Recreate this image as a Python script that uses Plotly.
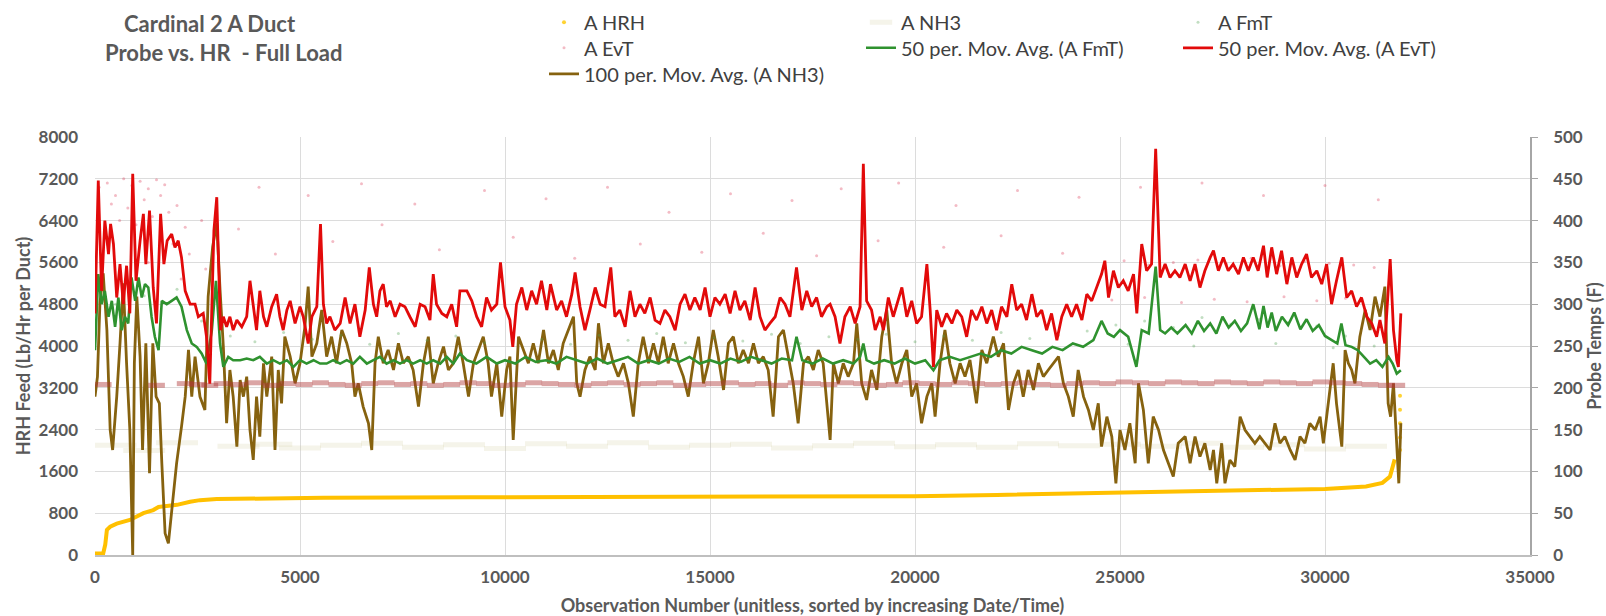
import plotly.graph_objects as go

# ---------------- data ----------------
# A HRH feed (Lb/Hr, left axis) - dense sorted points forming the orange curve
HRH_CURVE = [(0, 30), (200, 30), (250, 200), (290, 480), (370, 540), (530, 600), (850, 670),
             (1180, 800), (1420, 860), (1550, 920), (1750, 940), (2000, 960), (2320, 1020),
             (2560, 1050), (2970, 1070), (3940, 1085), (5570, 1095), (9150, 1105), (17000, 1110),
             (20000, 1125), (22000, 1150), (24000, 1180), (26000, 1210), (28000, 1235),
             (30000, 1265), (31000, 1310), (31400, 1380), (31585, 1500), (31700, 1830)]
HRH_DOTS = [(31830, 2010), (31830, 2250), (31830, 2520), (31830, 2780), (31830, 3050)]

# A EvT raw temps (F, right axis)
EVT_BAND = [(200, 204), (1500, 203), (2200, 205), (2500, 204), (2800, 203), (3100, 205), (3500, 204),
            (3900, 206), (4300, 203), (4700, 205), (5100, 204), (5500, 206), (5900, 204), (6300, 203),
            (6700, 205), (7100, 206), (7500, 204), (7900, 205), (8300, 203), (8700, 204), (9100, 206),
            (9500, 205), (9900, 203), (10300, 204), (10700, 206), (11100, 205), (11500, 204),
            (11900, 203), (12300, 205), (12700, 206), (13100, 204), (13500, 205), (13900, 206),
            (14300, 203), (14700, 204), (15100, 205), (15500, 206), (15900, 204), (16300, 205),
            (16700, 203), (17100, 206), (17500, 205), (17900, 204), (18300, 206), (18700, 205),
            (19100, 203), (19500, 204), (19900, 206), (20300, 205), (20700, 204), (21100, 206),
            (21500, 205), (21900, 204), (22300, 205), (22700, 206), (23100, 204), (23500, 203),
            (23900, 205), (24300, 206), (24700, 205), (25100, 207), (25500, 206), (25900, 205),
            (26300, 207), (26700, 206), (27100, 205), (27500, 207), (27900, 206), (28300, 205),
            (28700, 207), (29100, 206), (29500, 205), (29900, 207), (30300, 206), (30700, 205),
            (31100, 204), (31500, 203), (31750, 203)]
EVT_SCATTER = [(100, 440), (300, 445), (500, 430), (700, 450), (900, 442), (1100, 447), (1300, 438),
               (1500, 449), (1700, 443), (400, 420), (800, 415), (1200, 425), (1600, 430), (2000, 418),
               (600, 400), (1000, 395), (1400, 405), (1800, 410), (2200, 392), (2600, 400), (350, 380),
               (1900, 372), (2300, 360), (1300, 350), (2700, 342), (2100, 330), (4000, 440), (5200, 430),
               (6500, 444), (7800, 420), (9500, 436), (11000, 426), (12500, 440), (14000, 410),
               (15500, 432), (17000, 424), (18200, 438), (19600, 445), (21000, 418), (22500, 436),
               (24000, 428), (25500, 440), (27000, 445), (28500, 430), (30000, 442), (31300, 425),
               (3500, 390), (4400, 360), (5800, 375), (7000, 395), (8400, 365), (10200, 380),
               (11700, 355), (13300, 372), (14800, 362), (16300, 385), (17600, 358), (19100, 376),
               (20700, 368), (22100, 382), (23600, 361), (24600, 345), (25100, 352), (25700, 347),
               (26300, 350), (26900, 353), (27600, 348), (28200, 355), (28900, 346), (29500, 351),
               (30100, 349), (30700, 347), (31200, 344), (24800, 305), (25600, 308), (26500, 302),
               (27300, 306), (28100, 303), (29000, 309), (29800, 304), (30500, 307)]

# A FmT raw temps (F, right axis)
FMT_SCATTER = [(500, 300), (1200, 310), (2000, 318), (2600, 280), (3300, 262), (3900, 255), (4600, 266),
               (5300, 258), (6000, 263), (6700, 252), (7400, 265), (8100, 257), (8800, 262), (9500, 254),
               (10200, 264), (10900, 258), (11600, 252), (12300, 263), (13000, 257), (13700, 265),
               (14400, 254), (15100, 260), (15800, 256), (16500, 264), (17200, 253), (17900, 261),
               (18600, 258), (19300, 264), (20000, 255), (20700, 262), (21400, 257), (22100, 266),
               (22800, 259), (23500, 263), (24200, 268), (24900, 275), (25600, 280), (26300, 272),
               (27000, 284), (27700, 276), (28400, 282), (29100, 278), (29800, 274), (30500, 262),
               (31200, 250), (25200, 252), (26800, 250), (28800, 253), (30200, 248)]

# A NH3 raw (left axis)
NH3_SCATTER = [(500, 2100), (1200, 2000), (2000, 2150), (3500, 2080), (4300, 2120), (5000, 2050),
               (6000, 2100), (7000, 2140), (8000, 2060), (9000, 2110), (10000, 2040), (11000, 2130),
               (12000, 2080), (13000, 2150), (14000, 2060), (15000, 2100), (16000, 2120), (17000, 2050),
               (18000, 2090), (19000, 2140), (20000, 2070), (21000, 2110), (22000, 2060), (23000, 2130),
               (24000, 2090), (25000, 2120), (26000, 2080), (27000, 2140), (28000, 2060), (29000, 2110),
               (30000, 2030), (31000, 2080)]

# 50 per. Mov. Avg. (A EvT), F
EVT_AVG = [(0, 289), (80, 448), (160, 316), (240, 400), (330, 360), (380, 396), (450, 372), (530, 308),
           (610, 348), (690, 300), (770, 346), (850, 289), (920, 456), (1000, 328), (1100, 376),
           (1180, 408), (1240, 348), (1330, 412), (1420, 320), (1500, 277), (1600, 408), (1680, 348),
           (1760, 376), (1870, 384), (1950, 368), (2030, 376), (2110, 356), (2200, 316), (2320, 300),
           (2440, 300), (2520, 285), (2640, 289), (2720, 261), (2800, 205), (2900, 388), (2970, 428),
           (3060, 269), (3130, 285), (3210, 273), (3290, 285), (3370, 269), (3460, 281), (3580, 273),
           (3700, 285), (3780, 328), (3860, 300), (3940, 269), (4020, 316), (4110, 285), (4190, 273),
           (4310, 297), (4430, 312), (4510, 285), (4590, 269), (4680, 293), (4760, 304), (4880, 277),
           (5000, 297), (5080, 285), (5200, 253), (5290, 285), (5410, 297), (5500, 396), (5570, 300),
           (5650, 277), (5730, 285), (5850, 269), (5980, 277), (6100, 308), (6220, 277), (6340, 300),
           (6460, 261), (6590, 293), (6690, 344), (6790, 300), (6870, 285), (6950, 316), (7030, 324),
           (7110, 297), (7200, 304), (7320, 285), (7440, 300), (7560, 297), (7680, 285), (7810, 273),
           (7930, 300), (8050, 297), (8170, 281), (8250, 336), (8330, 300), (8460, 289), (8580, 285),
           (8700, 300), (8820, 273), (8900, 316),
           (9070, 316), (9190, 304), (9310, 285), (9430, 273), (9550, 308), (9670, 293), (9800, 300),
           (9890, 350), (10000, 297), (10120, 281), (10190, 249), (10280, 300), (10410, 320),
           (10530, 293), (10650, 316), (10770, 300), (10890, 328), (11020, 293), (11110, 324),
           (11260, 293), (11380, 304), (11500, 285), (11630, 312), (11710, 338), (11830, 297),
           (11950, 269), (12070, 293), (12200, 320), (12320, 300), (12440, 297), (12580, 344),
           (12680, 285), (12800, 293), (12930, 273), (13050, 316), (13170, 285), (13290, 300),
           (13410, 289), (13540, 308), (13660, 281), (13780, 277), (13900, 293), (14020, 285),
           (14150, 269), (14270, 300), (14390, 312), (14510, 293), (14630, 308), (14760, 293),
           (14880, 320), (15000, 285), (15120, 308), (15240, 300), (15370, 312), (15490, 289),
           (15610, 316), (15730, 293), (15850, 304), (15980, 281), (16100, 320), (16220, 285),
           (16340, 269), (16460, 277), (16590, 285), (16710, 308), (16830, 300), (16950, 285),
           (17110, 344), (17240, 293), (17360, 316), (17480, 297), (17600, 308), (17720, 285),
           (17850, 297),
           (17930, 300), (18050, 285), (18170, 253), (18290, 285), (18420, 297), (18540, 277),
           (18660, 297), (18740, 468), (18820, 304), (18940, 293), (19030, 269), (19150, 285),
           (19230, 269), (19350, 308), (19470, 285), (19590, 304), (19680, 320), (19800, 285),
           (19920, 304), (20040, 277), (20160, 285), (20290, 348), (20370, 293), (20450, 225),
           (20530, 293), (20650, 273), (20770, 289), (20900, 277), (21020, 293), (21140, 285),
           (21260, 261), (21380, 293), (21500, 281), (21630, 297), (21750, 277), (21870, 293),
           (21990, 269), (22110, 297), (22240, 285), (22360, 324), (22480, 293), (22600, 300),
           (22720, 281), (22850, 312), (22970, 285), (23090, 293), (23210, 269), (23330, 289),
           (23460, 257), (23580, 285), (23700, 300), (23820, 285), (23940, 300), (24070, 281),
           (24190, 312), (24310, 304), (24430, 320), (24550, 336), (24630, 352), (24720, 308),
           (24840, 340), (24960, 320), (25080, 328), (25200, 316), (25330, 336), (25410, 289),
           (25530, 372), (25650, 340), (25770, 348), (25870, 486), (25980, 332), (26100, 348),
           (26220, 332), (26340, 340),
           (26460, 332), (26590, 348), (26710, 328), (26830, 348), (26950, 320), (27070, 340),
           (27200, 356), (27280, 364), (27400, 340), (27520, 356), (27640, 340), (27760, 348),
           (27890, 336), (28010, 356), (28130, 340), (28250, 356), (28370, 340), (28500, 370),
           (28590, 332), (28700, 368), (28820, 336), (28940, 364), (29070, 324), (29190, 356),
           (29310, 332), (29430, 348), (29550, 360), (29670, 332), (29800, 340), (29920, 324),
           (30040, 348), (30160, 300), (30280, 328), (30410, 356), (30530, 308), (30650, 316),
           (30770, 297), (30890, 308), (31020, 285), (31140, 277), (31260, 261), (31340, 281),
           (31460, 253), (31590, 354), (31670, 269), (31750, 233), (31790, 225), (31850, 289)]

# 50 per. Mov. Avg. (A FmT), F
FMT_AVG = [(0, 245), (80, 336), (160, 300), (240, 316), (330, 285), (410, 304), (490, 273), (570, 308),
           (650, 269), (730, 285), (810, 277), (890, 332), (980, 304), (1060, 332), (1140, 308),
           (1220, 324), (1300, 320), (1380, 285), (1460, 261), (1550, 245), (1630, 304), (1750, 300),
           (1870, 304), (1990, 308), (2110, 297), (2240, 269), (2360, 253), (2480, 249), (2600, 241),
           (2720, 229), (2850, 269), (2950, 328), (3050, 253), (3130, 225), (3250, 237), (3370, 233),
           (3540, 233), (3700, 235), (3860, 233), (4020, 237), (4190, 229), (4350, 233), (4510, 229),
           (4680, 233), (4840, 225), (5000, 233), (5160, 229), (5330, 233), (5490, 229), (5650, 229),
           (5810, 233), (5980, 229), (6140, 233), (6300, 229), (6460, 237), (6630, 229), (6790, 233),
           (6950, 237), (7110, 229), (7280, 233), (7440, 229), (7600, 233), (7760, 229), (7930, 233),
           (8090, 229), (8250, 233), (8420, 229), (8580, 237), (8740, 229), (8900, 241),
           (9070, 233), (9300, 229), (9550, 237), (9800, 229), (10000, 233), (10250, 229), (10500, 237),
           (10750, 231), (11000, 233), (11250, 229), (11500, 237), (11750, 233), (12000, 229),
           (12250, 235), (12500, 229), (12750, 233), (13000, 237), (13250, 229), (13500, 233),
           (13750, 229), (14000, 235), (14250, 231), (14500, 237), (14750, 229), (15000, 233),
           (15250, 229), (15500, 235), (15750, 231), (16000, 237), (16250, 233), (16500, 229),
           (16750, 235), (17000, 233), (17110, 261), (17250, 233), (17500, 229), (17750, 235),
           (18000, 229), (18250, 233), (18500, 229), (18660, 237), (18740, 253), (18820, 233),
           (19000, 229), (19250, 233), (19500, 229), (19750, 235), (20000, 229), (20250, 233),
           (20450, 221), (20600, 233), (20850, 237), (21100, 233), (21350, 237), (21600, 241),
           (21850, 237), (22100, 245), (22350, 241), (22600, 249), (22850, 245), (23100, 241),
           (23350, 249), (23600, 245), (23850, 253), (24100, 249), (24350, 257), (24550, 280),
           (24700, 265), (24850, 261), (25000, 269), (25200, 261), (25400, 225), (25530, 269),
           (25700, 265), (25870, 345), (25980, 269), (26100, 265), (26250, 272), (26400, 265),
           (26600, 275), (26750, 265), (26900, 280), (27050, 268), (27200, 277), (27350, 265),
           (27500, 285), (27650, 272), (27800, 280), (27950, 268), (28100, 277), (28250, 300),
           (28400, 270), (28500, 298), (28600, 272), (28700, 290), (28800, 268), (28950, 285),
           (29100, 275), (29250, 290), (29400, 270), (29550, 282), (29700, 268), (29850, 275),
           (30000, 262), (30150, 257), (30300, 253), (30400, 277), (30500, 251), (30650, 249),
           (30800, 245), (30950, 237), (31100, 229), (31250, 233), (31400, 225), (31550, 237),
           (31650, 229), (31750, 217), (31850, 221)]

# 100 per. Mov. Avg. (A NH3), left axis
NH3_AVG = [(0, 3031), (60, 3414), (120, 4817), (200, 5392), (290, 4307), (370, 2393), (430, 2010),
           (530, 3031), (610, 4052), (690, 5200), (770, 3669), (850, 2393), (920, 0), (960, 3669),
           (1020, 4945), (1100, 3797), (1160, 2010), (1240, 4052), (1330, 1564), (1410, 4052),
           (1490, 3031), (1570, 2903), (1630, 1755), (1710, 415), (1790, 224), (1870, 798),
           (1990, 1755), (2110, 2457), (2200, 3031), (2280, 3924), (2360, 3031), (2440, 3797),
           (2560, 3031), (2680, 2776), (2760, 4945), (2870, 5902), (2970, 6349), (3050, 5073),
           (3130, 3988), (3210, 2521), (3290, 3541), (3370, 3031), (3460, 2074), (3540, 3350),
           (3620, 3031), (3700, 3414), (3780, 2393), (3860, 1819), (3940, 3031), (4020, 2266),
           (4110, 3669), (4190, 3031), (4310, 3797), (4390, 2010), (4470, 3541), (4550, 2903),
           (4630, 4179), (4760, 3797), (4880, 3286), (5000, 3669), (5120, 4371), (5200, 5136),
           (5290, 3797), (5410, 4052), (5530, 4690), (5650, 3797), (5770, 4179), (5890, 3669),
           (6020, 4307), (6140, 4052), (6260, 3669), (6340, 3031), (6420, 3286), (6540, 2840),
           (6670, 2521), (6750, 2010), (6830, 3669), (6910, 4179), (7030, 3669), (7150, 3924),
           (7280, 3541), (7400, 4052), (7520, 3669), (7640, 3797), (7760, 3541), (7890, 2840),
           (8010, 3669), (8130, 4179), (8250, 3286), (8370, 3669), (8500, 3988), (8620, 3541),
           (8740, 3669), (8860, 4179),
           (8980, 3669), (9110, 3031), (9230, 3669), (9350, 3924), (9470, 4179), (9590, 3669),
           (9670, 3031), (9800, 3669), (9920, 2648), (10040, 3541), (10120, 3797), (10200, 2202),
           (10330, 4179), (10450, 3924), (10570, 3669), (10690, 4052), (10810, 3669), (10940, 4307),
           (11060, 3669), (11180, 3924), (11300, 3541), (11420, 4052), (11540, 4307), (11670, 4562),
           (11750, 3286), (11830, 3031), (11950, 3541), (12070, 3797), (12200, 3541), (12280, 4435),
           (12400, 3669), (12520, 4052), (12640, 3669), (12760, 3414), (12890, 3669), (13010, 3286),
           (13130, 2648), (13250, 3669), (13370, 4179), (13500, 3669), (13620, 4052), (13740, 3669),
           (13860, 4179), (13980, 3669), (14110, 4052), (14230, 3669), (14350, 3414), (14470, 3031),
           (14590, 3669), (14720, 4179), (14840, 3286), (14960, 3669), (15080, 4307), (15200, 3797),
           (15330, 3159), (15450, 4052), (15570, 4179), (15690, 3669), (15810, 3924), (15940, 3669),
           (16060, 4052), (16180, 3669), (16300, 3797), (16420, 3541), (16540, 2648), (16670, 4179),
           (16790, 4307), (16910, 3797), (17030, 3286), (17150, 2521), (17280, 3669), (17400, 3797),
           (17520, 3541), (17640, 3924), (17760, 3669), (17930, 2202),
           (18010, 3669), (18130, 3286), (18250, 3669), (18370, 3414), (18500, 3669), (18580, 4435),
           (18700, 3286), (18820, 2967), (18940, 3541), (19070, 3159), (19190, 4179), (19310, 4690),
           (19430, 3669), (19550, 3286), (19680, 3669), (19800, 3924), (19920, 3031), (20040, 3286),
           (20160, 2521), (20290, 3031), (20410, 3286), (20490, 2648), (20610, 3669), (20730, 4307),
           (20850, 3669), (20980, 3286), (21100, 3669), (21220, 3414), (21340, 3733), (21500, 2903),
           (21630, 3924), (21750, 3669), (21910, 4179), (22030, 3797), (22160, 4052), (22280, 2776),
           (22400, 3286), (22520, 3541), (22640, 3031), (22760, 3541), (22890, 3159), (23010, 3669),
           (23130, 3414), (23250, 3541), (23370, 3669), (23500, 3797), (23620, 3286), (23740, 3031),
           (23860, 2648), (23980, 3541), (24110, 3031), (24230, 2776), (24350, 2393), (24470, 2903),
           (24550, 2074), (24680, 2648), (24800, 2266), (24900, 1372), (25000, 2393), (25120, 2010),
           (25240, 2521), (25370, 1755), (25450, 3286), (25570, 2776), (25690, 1755), (25810, 2648),
           (25940, 2393), (26060, 2010), (26180, 1755), (26300, 1500), (26420, 2138),
           (26590, 2266), (26710, 1755), (26830, 2266), (26950, 1883), (27070, 2138), (27200, 1628),
           (27280, 2010), (27360, 1372), (27480, 2138), (27560, 1372), (27680, 1819), (27800, 1691),
           (27930, 2648), (28050, 2393), (28170, 2266), (28290, 2138), (28410, 2266), (28540, 2138),
           (28660, 2010), (28780, 2521), (28900, 2138), (29020, 2266), (29150, 2010), (29270, 1819),
           (29390, 2266), (29510, 2138), (29630, 2521), (29760, 2393), (29880, 2648), (29960, 2138),
           (30040, 2648), (30120, 3159), (30200, 3669), (30280, 2903), (30410, 2074), (30490, 3924),
           (30570, 3669), (30650, 3541), (30730, 3286), (30850, 4179), (30980, 4690), (31100, 4307),
           (31220, 4945), (31340, 4562), (31460, 5136), (31540, 2903), (31600, 2648), (31670, 3286),
           (31750, 2010), (31800, 1372), (31850, 2521)]

LEFT_TICKS = list(range(0, 8001, 800))
RIGHT_TICKS = list(range(0, 501, 50))
X_TICKS = list(range(0, 35001, 5000))


def xs(p):
    return [a for a, _ in p]


def ys(p):
    return [b for _, b in p]


# ---------------- figure ----------------
FONT = "Lato"
GRAY = "#595959"
fig = go.Figure()

# row 1 of legend: A HRH, A NH3, A FmT ; row 2: A EvT, FmT avg, EvT avg ; row 3: NH3 avg
fig.add_trace(go.Scatter(x=xs(HRH_DOTS), y=ys(HRH_DOTS), name="A HRH", mode="markers",
                         marker=dict(size=4, color="rgba(255,200,0,0.8)"),
                         legend="legend", legendgroup="hrh", yaxis="y"))
fig.add_trace(go.Scatter(x=xs(EVT_SCATTER), y=ys(EVT_SCATTER), name="A EvT", mode="markers",
                         marker=dict(size=3, color="rgba(220,60,90,0.35)"),
                         legend="legend2", legendgroup="evt", yaxis="y2"))
fig.add_trace(go.Scatter(x=xs(EVT_BAND), y=ys(EVT_BAND), name="A EvT", mode="markers",
                         marker=dict(symbol="line-ew", size=12,
                                     line=dict(width=5, color="rgba(175,55,55,0.45)")),
                         showlegend=False, legendgroup="evt", yaxis="y2"))
fig.add_trace(go.Scatter(x=xs(NH3_SCATTER), y=ys(NH3_SCATTER), name="A NH3", mode="markers",
                         marker=dict(symbol="line-ew", size=30,
                                     line=dict(width=5, color="rgba(210,205,160,0.22)")),
                         legend="legend", legendgroup="nh3", yaxis="y"))
fig.add_trace(go.Scatter(x=xs(FMT_SCATTER), y=ys(FMT_SCATTER), name="A FmT", mode="markers",
                         marker=dict(size=3, color="rgba(80,160,80,0.35)"),
                         legend="legend", legendgroup="fmt", yaxis="y2"))

# HRH curve
fig.add_trace(go.Scatter(x=xs(HRH_CURVE), y=ys(HRH_CURVE), name="A HRH", mode="lines",
                         line=dict(color="#FFC000", width=4),
                         showlegend=False, legendgroup="hrh", yaxis="y"))

# moving averages
fig.add_trace(go.Scatter(x=xs(FMT_AVG), y=ys(FMT_AVG), name="50 per. Mov. Avg. (A FmT)", mode="lines",
                         line=dict(color="#2F922F", width=2.6),
                         legend="legend2", legendgroup="fmtavg", yaxis="y2"))
fig.add_trace(go.Scatter(x=xs(EVT_AVG), y=ys(EVT_AVG), name="50 per. Mov. Avg. (A EvT)", mode="lines",
                         line=dict(color="#E20A0A", width=2.8),
                         legend="legend2", legendgroup="evtavg", yaxis="y2"))
fig.add_trace(go.Scatter(x=xs(NH3_AVG), y=ys(NH3_AVG), name="100 per. Mov. Avg. (A NH3)", mode="lines",
                         line=dict(color="#86620F", width=2.8),
                         legend="legend3", legendgroup="nh3avg", yaxis="y"))

tickfont = dict(family=FONT, size=17, color=GRAY, weight="bold")
titlefont = dict(family=FONT, size=18, color=GRAY, weight="bold")
legfont = dict(family=FONT, size=20, color="#404040")
LEG_X = (544 - 95) / 1435
leg_common = dict(orientation="h", x=LEG_X, xanchor="left", yanchor="top",
                  bgcolor="rgba(0,0,0,0)", font=legfont, traceorder="normal",
                  itemwidth=30, entrywidth=272, entrywidthmode="pixels")


def row_y(top_px):
    return 1 + (137 - top_px) / 418


fig.update_layout(
    width=1606, height=616, autosize=False,
    paper_bgcolor="white", plot_bgcolor="white",
    margin=dict(l=95, r=76, t=137, b=61, autoexpand=False),
    showlegend=True,
    legend=dict(y=row_y(2.8), **leg_common),
    legend2=dict(y=row_y(28.3), **leg_common),
    legend3=dict(y=row_y(54.3), **leg_common),
    xaxis=dict(range=[0, 35000], tickvals=X_TICKS, ticktext=[str(v) for v in X_TICKS],
               showgrid=True, gridcolor="#DCDCDC", gridwidth=1, zeroline=False,
               showline=True, linecolor="#BFBFBF", linewidth=1.5, ticks="",
               tickfont=tickfont, ticklabelstandoff=6,
               title=dict(text="Observation Number (unitless, sorted by increasing Date/Time)",
                          font=titlefont, standoff=17)),
    yaxis=dict(range=[0, 8000], tickvals=LEFT_TICKS, ticktext=[str(v) for v in LEFT_TICKS],
               showgrid=True, gridcolor="#DCDCDC", gridwidth=1, zeroline=False,
               showline=False, ticks="", tickfont=tickfont, ticklabelstandoff=16,
               title=dict(text="HRH Feed (Lb/Hr per Duct)", font=titlefont, standoff=3)),
    yaxis2=dict(range=[0, 500], tickvals=RIGHT_TICKS, ticktext=[str(v) for v in RIGHT_TICKS],
                overlaying="y", side="right", showgrid=False, zeroline=False,
                showline=True, linecolor="#A6A6A6", linewidth=1.5,
                ticks="outside", ticklen=6, tickcolor="#A6A6A6",
                tickfont=tickfont, ticklabelstandoff=12,
                title=dict(text="Probe Temps (F)", font=titlefont, standoff=4)),
    annotations=[
        dict(text="Cardinal 2 A Duct", xref="paper", yref="paper",
             x=(210 - 95) / 1435, y=1 + (137 - 23.5) / 418, xanchor="center", yanchor="middle",
             showarrow=False, font=dict(family=FONT, size=22, color=GRAY, weight="bold")),
        dict(text="Probe vs. HR  - Full Load", xref="paper", yref="paper",
             x=(223 - 95) / 1435, y=1 + (137 - 52.5) / 418, xanchor="center", yanchor="middle",
             showarrow=False, font=dict(family=FONT, size=22, color=GRAY, weight="bold")),
    ],
)

fig.write_html("out.html")
